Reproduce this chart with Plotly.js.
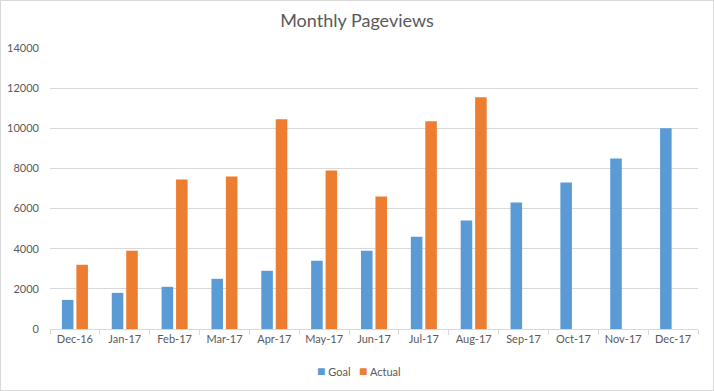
<!DOCTYPE html>
<html>
<head>
<meta charset="utf-8">
<script src="https://cdn.plot.ly/plotly-3.0.1.min.js"></script>
<style>
html,body{margin:0;padding:0;background:#fff;}
#chart{width:712px;height:389px;border:1px solid #d9d9d9;}
</style>
</head>
<body>
<div id="chart"></div>
<script>
const months = ["Dec-16","Jan-17","Feb-17","Mar-17","Apr-17","May-17","Jun-17","Jul-17","Aug-17","Sep-17","Oct-17","Nov-17","Dec-17"];
const goal = [1450,1800,2100,2500,2900,3400,3900,4600,5400,6300,7300,8500,10000];
const actual = [3200,3900,7450,7600,10450,7900,6600,10350,11550,null,null,null,null];
const yTicks = [0,2000,4000,6000,8000,10000,12000,14000];
const seriesNames = ["Goal","Actual"];
const seriesColors = ["#5b9bd5","#ed7d31"];

const font = "Lato, 'Open Sans', sans-serif";
const data = [
  {type:"bar", name:seriesNames[0], x:months, y:goal, marker:{color:seriesColors[0]}},
  {type:"bar", name:seriesNames[1], x:months, y:actual, marker:{color:seriesColors[1]}}
];
const legendText = seriesNames.map((n,i)=>`<span style="color:${seriesColors[i]};font-size:14px">■</span> ${n}`).join("&nbsp;&nbsp;&nbsp;");
const layout = {
  width:712, height:389,
  margin:{l:49, r:15, t:47, b:61},
  paper_bgcolor:"#fff", plot_bgcolor:"#fff",
  font:{family:font, color:"#595959", size:11},
  title:{text:"Monthly Pageviews", font:{family:font, size:18, color:"#595959"}, x:0.5, xanchor:"center", y:0.95, yanchor:"middle"},
  barmode:"group", bargap:0.42, bargroupgap:0.2,
  showlegend:false,
  annotations:[{text:legendText, xref:"paper", yref:"paper", x:0.477, y:-0.148, xanchor:"center", yanchor:"middle",
                showarrow:false, font:{family:font, size:11, color:"#595959"}}],
  xaxis:{type:"category", showgrid:false, showline:true, linecolor:"#d9d9d9", linewidth:1,
         ticks:"outside", tickson:"boundaries", ticklen:5, tickcolor:"#d9d9d9",
         tickfont:{size:11, color:"#595959"}, fixedrange:true},
  yaxis:{range:[0,14000], tickvals:yTicks, ticktext:yTicks.map(String), showgrid:true, gridcolor:"#d9d9d9",
         zeroline:false, showline:false, ticks:"", ticklabelstandoff:10,
         tickfont:{size:11, color:"#595959"}, fixedrange:true}
};
Plotly.newPlot("chart", data, layout, {displayModeBar:false, staticPlot:true});
</script>
</body>
</html>
